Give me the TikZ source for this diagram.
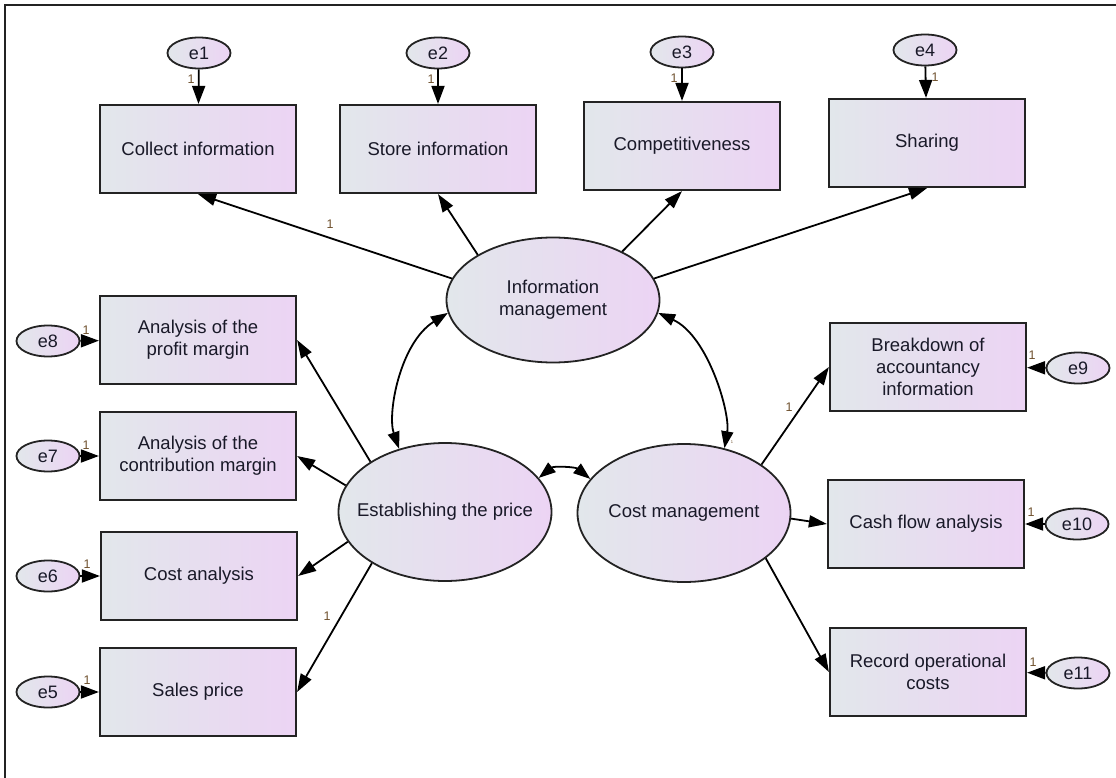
\documentclass[tikz,border=0pt]{standalone}
\usepackage{fontspec}
\setmainfont{Liberation Sans}
\usetikzlibrary{shapes.geometric,arrows.meta}
\definecolor{cL}{RGB}{226,231,235}
\definecolor{cR}{RGB}{236,212,244}
\definecolor{bdc}{RGB}{35,35,35}
\definecolor{txt}{RGB}{25,25,40}
\definecolor{onec}{RGB}{110,80,45}
\begin{document}
\begin{tikzpicture}[x=1pt,y=-1pt,
  obs/.style={rectangle, draw=bdc, line width=2.2pt, minimum width=196pt, minimum height=88pt,
    left color=cL, right color=cR, text=txt, align=center, inner sep=0pt,
    font=\fontsize{18.5}{22}\selectfont},
  lat/.style={ellipse, draw=bdc, line width=1.8pt, minimum width=213pt, minimum height=125pt,
    left color=cL, right color=cR, text=txt, align=center, inner xsep=-25pt, inner ysep=0pt,
    font=\fontsize{18.5}{22}\selectfont},
  err/.style={ellipse, draw=bdc, line width=1.8pt, minimum width=63pt, minimum height=31pt,
    left color=cL, right color=cR, text=txt, inner sep=0pt,
    font=\fontsize{18}{20}\selectfont},
  conn/.style={line width=1.8pt, draw=black, -{Triangle[length=18pt,width=12pt]}},
  econn/.style={line width=1.8pt, draw=black, -{Triangle[length=18pt,width=13pt]}},
  cov/.style={line width=1.8pt, draw=black, {Triangle[length=17pt,width=12pt]}-{Triangle[length=17pt,width=12pt]}},
  one/.style={text=onec, inner sep=0pt, font=\fontsize{12.5}{13}\selectfont},
  frame/.style={line width=2.5pt, draw=bdc}
]
\useasboundingbox (0,0) rectangle (1116,778);
\coordinate (fa) at (5,778);
\coordinate (fb) at (5,5);
\coordinate (fc) at (1116,5);
\draw[frame] (fa) -- (fb) -- (fc);

% observed indicators
\node[obs] (collect) at (198,149) {Collect information};
\node[obs] (store) at (438,149) {Store information};
\node[obs] (comp) at (682,146) {Competitiveness};
\node[obs] (share) at (927,143) {Sharing};
\node[obs] (pm) at (198,340) {Analysis of the\\profit margin};
\node[obs] (cm) at (198,456) {Analysis of the\\contribution margin};
\node[obs] (ca) at (199,576) {Cost analysis};
\node[obs] (sp) at (198,692) {Sales price};
\node[obs] (bk) at (928,367) {Breakdown of\\accountancy\\information};
\node[obs] (cf) at (926,524) {Cash flow analysis};
\node[obs] (ro) at (928,672) {Record operational\\costs};

% latent variables
\node[lat] (info) at (553,300) {Information\\management};
\node[lat, minimum height=138pt] (est) at (445,512) {Establishing the price};
\node[lat, minimum height=138pt] (cost) at (684,513) {Cost management};

% error terms
\node[err] (e1) at (199,53) {e1};
\node[err] (e2) at (438,53) {e2};
\node[err] (e3) at (682,52) {e3};
\node[err] (e4) at (925,50) {e4};
\node[err] (e8) at (48,341) {e8};
\node[err] (e7) at (48,456) {e7};
\node[err] (e6) at (48,576) {e6};
\node[err] (e5) at (48,692) {e5};
\node[err] (e9) at (1078,368) {e9};
\node[err] (e10) at (1077,524) {e10};
\node[err] (e11) at (1078,673) {e11};

% error arrows
\draw[econn] (e1) -- (collect);
\draw[econn] (e2) -- (store);
\draw[econn] (e3) -- (comp);
\draw[econn] (e4) -- (share);
\draw[econn] (e8) -- (pm);
\draw[econn] (e7) -- (cm);
\draw[econn] (e6) -- (ca);
\draw[econn] (e5) -- (sp);
\draw[econn] (e9) -- (bk);
\draw[econn] (e10) -- (cf);
\draw[econn] (e11) -- (ro);

\node[one] (o1) at (191,79) {1};
\node[one] (o2) at (431,79) {1};
\node[one] (o3) at (674,78) {1};
\node[one] (o4) at (935,77) {1};
\node[one] (o8) at (86,330) {1};
\node[one] (o7) at (86,445) {1};
\node[one] (o6) at (87,564) {1};
\node[one] (o5) at (87,680) {1};
\node[one] (o9) at (1032,355) {1};
\node[one] (o10) at (1031,512) {1};
\node[one] (o11) at (1033,662) {1};

% loadings
\draw[conn] (info.168) -- (collect.south);
\draw[conn] (info.149) -- (store.south);
\draw[conn] (info.35) -- (comp.south);
\draw[conn] (info.12) -- (share.south);
\draw[conn] (est.146) -- (pm.east);
\draw[conn] (est.165) -- (cm.east);
\draw[conn] (est.197) -- (ca.east);
\draw[conn] (est.215) -- (sp.east);
\draw[conn] (cost.32) -- (bk.west);
\draw[conn] (cost.357) -- (cf.west);
\draw[conn] (cost.331) -- (ro.west);

\node[one] (l1) at (330,224) {1};
\node[one] (l2) at (327,616) {1};
\node[one] (l3) at (789,407) {1};
\node[one, font=\fontsize{4}{5}\selectfont] (l4) at (732,442) {1};

% covariances
\draw[cov] (info.187) .. controls +(-48,30) and +(-12,-35) .. (est.126);
\draw[cov] (info.353) .. controls +(50,23) and +(6,-35) .. (cost.58);
\draw[cov] (est.20) .. controls +(15,-12) and +(-15,-12) .. (cost.160);
\end{tikzpicture}
\end{document}
